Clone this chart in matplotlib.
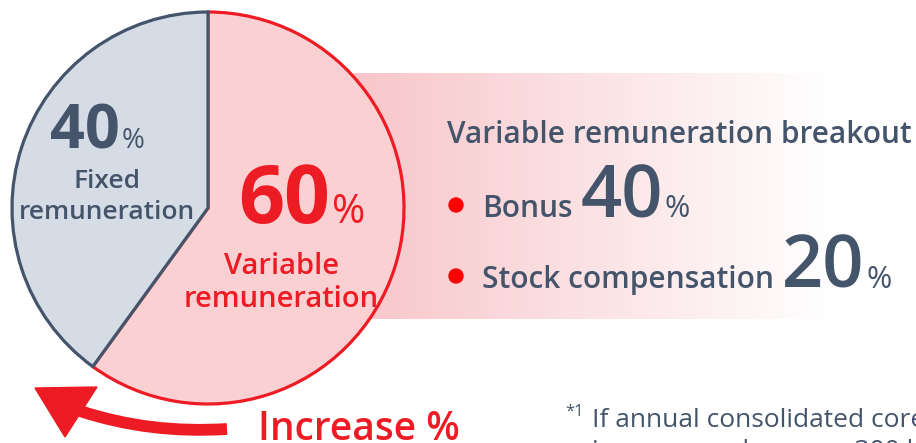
import numpy as np
import matplotlib.pyplot as plt
from matplotlib.path import Path
from matplotlib.patches import PathPatch, Polygon, Circle

# --- data ---
pie_labels = ['Variable\nremuneration', 'Fixed\nremuneration']
pie_shares = [60, 40]
breakout_title = 'Variable remuneration breakout'
breakout_labels = ['Bonus', 'Stock compensation']
breakout_values = [40, 20]
arrow_label = 'Increase %'
footnote_lines = ['If annual consolidated core operating',
                  'income reaches over 300 billion yen']

# --- colours ---
SLATE = '#44546a'
RED = '#ed1c24'
PINK = '#fbd0d3'
GREY = '#d6dce5'

plt.rcParams['font.family'] = ['Open Sans', 'DejaVu Sans']

W, H = 916, 443
fig = plt.figure(figsize=(W / 100, H / 100), dpi=100)
ax = fig.add_axes([0, 0, 1, 1])
ax.set_xlim(0, W)
ax.set_ylim(0, H)


def Y(y):
    # image coords (top-down) -> axes coords
    return H - y


# gradient band behind the pie
grad = np.linspace(0, 1, 256)
band = np.ones((2, 256, 4))
left_rgb = np.array([248, 198, 202]) / 255
alpha = np.clip(1 - grad / 0.85, 0, 1)
for i in range(3):
    band[:, :, i] = left_rgb[i] * alpha + 1 * (1 - alpha)
ax.imshow(band, extent=(353, W, Y(319), Y(73)), aspect='auto', zorder=0,
          interpolation='bicubic')

# pie
cx, cy, r = 208, Y(208), 196
wedges, _ = ax.pie(pie_shares, colors=[PINK, GREY], startangle=90,
                   counterclock=False, center=(cx, cy), radius=r,
                   wedgeprops={'linewidth': 2.3})
wedges[0].set_edgecolor(RED)
wedges[1].set_edgecolor(SLATE)
for w in wedges:
    w.set_zorder(2)

ax.set_xlim(0, W)
ax.set_ylim(0, H)
ax.set_aspect('equal')
ax.axis('off')


def right_edge(t):
    fig.canvas.draw()
    bb = t.get_window_extent()
    return ax.transData.inverted().transform((bb.x1, bb.y0))[0]


def number_with_pct(x, y, value, size, pct_size, color, weight='bold', gap=2):
    t = ax.text(x, Y(y), str(value), fontsize=size, color=color,
                fontweight=weight, va='baseline', ha='left', zorder=5)
    ax.text(right_edge(t) + gap, Y(y), '%', fontsize=pct_size, color=color,
            va='baseline', ha='left', zorder=5)
    return t


# fixed share labels
number_with_pct(50, 148, pie_shares[1], 44, 20, SLATE)
ax.text(107, Y(197), pie_labels[1], fontsize=19, color=SLATE,
        fontweight='semibold', ha='center', va='center', linespacing=1.3,
        zorder=5)

# variable share labels
number_with_pct(238, 223, pie_shares[0], 58, 29, RED)
ax.text(281, Y(283), pie_labels[0], fontsize=21, color=RED,
        fontweight='semibold', ha='center', va='center', linespacing=1.2,
        zorder=5)

# breakout
ax.text(447, Y(143), breakout_title, fontsize=21.5, color=SLATE,
        fontweight='semibold', va='baseline', ha='left', zorder=5)
for i, (lab, val) in enumerate(zip(breakout_labels, breakout_values)):
    base = 217 + i * 71
    ax.add_patch(Circle((456, Y(base - 12)), 7, color='#ff0000', zorder=5))
    t = ax.text(482, Y(base), lab, fontsize=21.5, color=SLATE,
                fontweight='semibold', va='baseline', ha='left', zorder=5)
    number_with_pct(right_edge(t) + 8, base, val, 52, 22, SLATE,
                    weight='semibold')

# curved arrow
body = Path([(227, Y(429)), (150, Y(434)), (80, Y(411))],
            [Path.MOVETO, Path.CURVE3, Path.CURVE3])
ax.add_patch(PathPatch(body, facecolor='none', edgecolor=RED, lw=8.5,
                       capstyle='butt', zorder=4))
ax.add_patch(Polygon([(35, Y(388)), (97, Y(387)), (65, Y(437))],
                     closed=True, color=RED, zorder=4))
ax.text(258, Y(440), arrow_label, fontsize=28, color=RED,
        fontweight='semibold', va='baseline', ha='left', zorder=5)

# footnote (cut off at the right and bottom edges)
ax.text(565, Y(416), '*1', fontsize=12, color=SLATE, va='baseline', zorder=5)
ax.text(592, Y(427), footnote_lines[0], fontsize=19, color=SLATE,
        va='baseline', ha='left', zorder=5)
ax.text(592, Y(458), footnote_lines[1], fontsize=19, color=SLATE,
        va='baseline', ha='left', zorder=5)

fig.savefig('out.png', dpi=100)
